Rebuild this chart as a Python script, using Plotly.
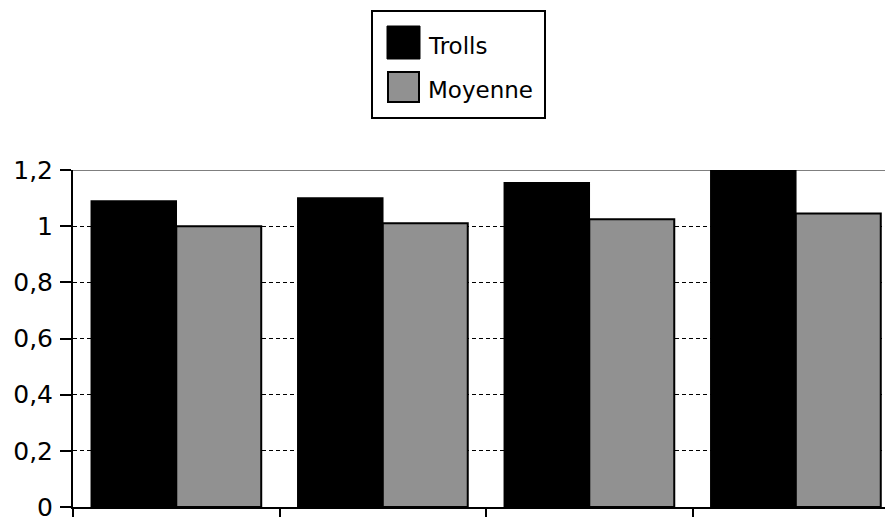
import plotly.graph_objects as go

categories = ["1", "2", "3", "4"]
series_names = ["Trolls", "Moyenne"]
trolls = [1.09, 1.10, 1.155, 1.21]
moyenne = [1.0, 1.01, 1.025, 1.045]
y_ticks = [0, 0.2, 0.4, 0.6, 0.8, 1.0, 1.2]
y_tick_labels = ["0", "0,2", "0,4", "0,6", "0,8", "1", "1,2"]
colors = ["#000000", "#919191"]

W, H = 885, 517
ML, MR, MT, MB = 73, 0, 170, 10
PW, PH = W - ML - MR, H - MT - MB

xs = list(range(len(categories)))

fig = go.Figure()
fig.add_bar(x=xs, y=trolls, name=series_names[0], marker=dict(color=colors[0], line=dict(color="black", width=1.5)), showlegend=False)
fig.add_bar(x=xs, y=moyenne, name=series_names[1], marker=dict(color=colors[1], line=dict(color="black", width=2)), showlegend=False)

font = "DejaVu Sans, Verdana, sans-serif"

def px_x(p):
    return (p - ML) / PW

def px_y(p):
    return (H - MB - p) / PH

shapes = [
    dict(type="line", xref="paper", yref="y", x0=0, x1=1, y0=1.2, y1=1.2, line=dict(color="black", width=1)),
    dict(type="rect", xref="paper", yref="paper", x0=px_x(372), x1=px_x(545), y0=px_y(11), y1=px_y(118),
         line=dict(color="black", width=2), fillcolor="white", layer="above"),
    dict(type="rect", xref="paper", yref="paper", x0=px_x(387), x1=px_x(420), y0=px_y(26), y1=px_y(59),
         line=dict(color="black", width=1), fillcolor=colors[0], layer="above"),
    dict(type="rect", xref="paper", yref="paper", x0=px_x(388), x1=px_x(419), y0=px_y(72), y1=px_y(102),
         line=dict(color="black", width=2), fillcolor=colors[1], layer="above"),
]
annotations = [
    dict(text=series_names[0], xref="paper", yref="paper", x=px_x(426), y=px_y(46), xanchor="left", yanchor="middle",
         showarrow=False, font=dict(family=font, size=23, color="black")),
    dict(text=series_names[1], xref="paper", yref="paper", x=px_x(426), y=px_y(90), xanchor="left", yanchor="middle",
         showarrow=False, font=dict(family=font, size=23, color="black")),
]

fig.update_layout(
    width=W, height=H,
    margin=dict(l=ML, r=MR, t=MT, b=MB, autoexpand=False),
    paper_bgcolor="white", plot_bgcolor="white",
    barmode="group", bargap=0.177, bargroupgap=0,
    shapes=shapes, annotations=annotations,
    font=dict(family=font, size=25, color="black"),
)
fig.update_xaxes(
    range=[-0.5, 3.432], showgrid=False, zeroline=False, automargin=False,
    showline=True, linecolor="black", linewidth=2,
    tickmode="array", tickvals=[-0.5, 0.5, 1.5, 2.5, 3.5], ticktext=["", "", "", "", ""],
    ticks="outside", ticklen=10, tickwidth=2, tickcolor="black",
)
fig.update_yaxes(
    range=[0, 1.2], zeroline=False, automargin=False,
    showline=True, linecolor="black", linewidth=2,
    tickmode="array", tickvals=y_ticks, ticktext=y_tick_labels,
    ticks="outside", ticklen=11, tickwidth=1.5, tickcolor="black",
    ticklabelstandoff=2, ticklabeloverflow="allow",
    showgrid=True, gridcolor="black", gridwidth=1, griddash="4px,3px",
    tickfont=dict(family=font, size=25, color="black"),
)

fig.write_html(
    "out.html",
    config={"displayModeBar": False},
    post_script="document.body.style.margin='0';document.body.style.overflow='hidden';",
)
